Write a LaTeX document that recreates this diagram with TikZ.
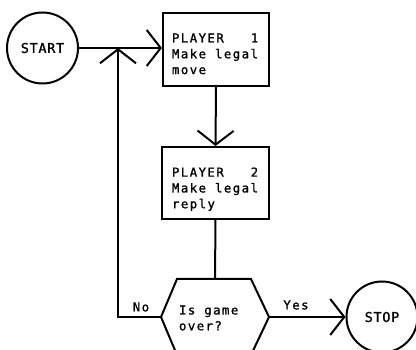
\documentclass[tikz,border=0pt]{standalone}
\usepackage{fontspec}
\newfontfamily\plotfont[LetterSpace=12,FakeBold=1.2]{DejaVu Sans Mono}
\newfontfamily\termfont[LetterSpace=5,FakeBold=1.2]{DejaVu Sans Mono}
\newcommand{\sq}{\kern9pt\relax}
\usetikzlibrary{arrows.meta}
\begin{document}
\begin{tikzpicture}[x=1pt,y=-1pt,line width=2pt,
  barb/.style={-{Straight Barb[length=14pt,width=36pt]}},
  txt/.style={font=\plotfont\fontsize{12.3}{15.8}\selectfont,inner sep=0pt,align=left},
  stepbox/.style={draw,rectangle,inner sep=0pt},
  term/.style={draw,circle,inner sep=0pt,minimum size=71pt,font=\termfont\fontsize{13.5}{16}\selectfont},
  decide/.style={rectangle,inner sep=0pt,minimum width=106pt,minimum height=74pt}]
\useasboundingbox (0,0) rectangle (416,350);
\node[term] (start) at (42.5,48) {START};
\node[stepbox,minimum width=106pt,minimum height=73pt] (p1) at (216,49.5) {};
\node[txt,anchor=north west] (p1t) at (171,32.5) {PLAYER\sq\sq\sq1\\Make\sq legal\\move};
\node[stepbox,minimum width=107pt,minimum height=72pt] (p2) at (215.5,183) {};
\node[txt,anchor=north west] (p2t) at (171,166.5) {PLAYER\sq\sq\sq2\\Make\sq legal\\reply};
\node[decide] (dec) at (215,317) {};
\node[txt,anchor=north west] (dect) at (178,304.5) {Is\sq game\\over?};
\draw (dec.west) -- ([xshift=16pt]dec.north west) -- ([xshift=-18pt]dec.north east) -- (dec.east) -- ([xshift=-18pt]dec.south east) -- ([xshift=16pt]dec.south west) -- cycle;
\node[term] (stop) at (382,317) {STOP};
\coordinate (j) at (118,48);
\coordinate (c) at (118,317);
\draw[barb] (start.east) -- (start.east -| p1.west);
\draw[barb] (dec.west) -- (c) -- (j);
\draw[barb] (p1.south) -- (p2.north);
\draw (p2.south) -- (dec.north);
\draw[barb] (dec.east) -- (stop.west);
\node[txt] (no) at (141,307) {No};
\node[txt] (yes) at (296,305) {Yes};
\end{tikzpicture}
\end{document}
